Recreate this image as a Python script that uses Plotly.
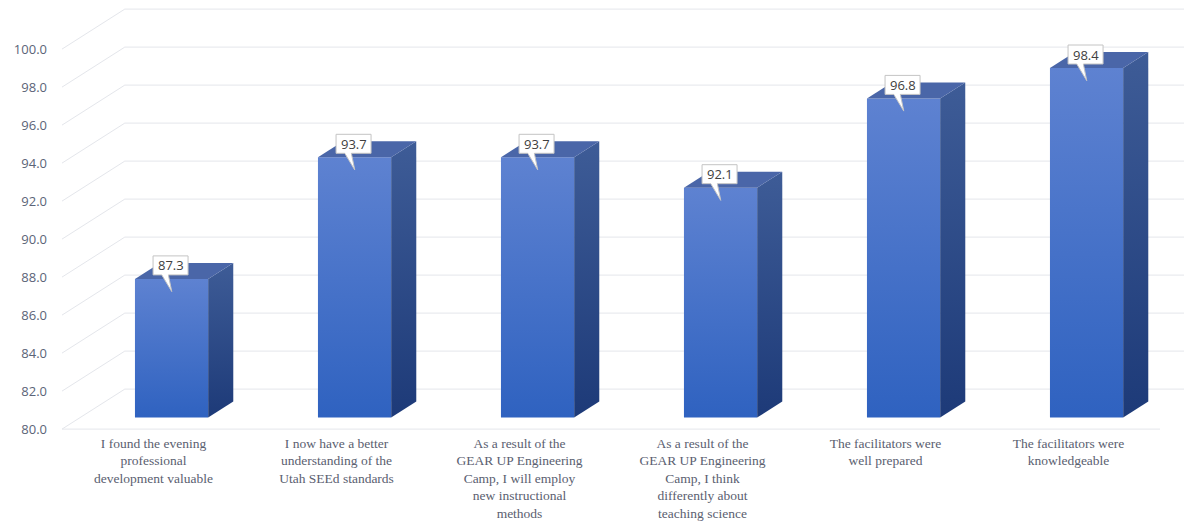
import plotly.graph_objects as go

# ---------------- data ----------------
categories = [
    "I found the evening<br>professional<br>development valuable",
    "I now have a better<br>understanding of the<br>Utah SEEd standards",
    "As a result of the<br>GEAR UP Engineering<br>Camp, I will employ<br>new instructional<br>methods",
    "As a result of the<br>GEAR UP Engineering<br>Camp, I think<br>differently about<br>teaching science",
    "The facilitators were<br>well prepared",
    "The facilitators were<br>knowledgeable",
]
values = [87.3, 93.7, 93.7, 92.1, 96.8, 98.4]
y_ticks = [80, 82, 84, 86, 88, 90, 92, 94, 96, 98, 100]
y_tick_labels = [f"{v:.1f}" for v in y_ticks]
y_base = 80

# ---------------- geometry / style ----------------
W, H = 1184, 521
ML, MR, MT, MB = 56, 0, 0, 89
PXX, PXY = 183.0, 19.0          # pixels per x unit / per y unit
K = 1.57                        # x pixels per depth pixel (oblique projection)
T_BF, T_BB, T_BACK = 11.5, 27.5, 40.0   # depth of bar front, bar back, back wall
HALF = 0.2                      # half bar width (category units)

x0 = -(153.5 - ML) / PXX
x1 = x0 + (W - ML - MR) / PXX
y_top = y_base + 417.6 / PXY
y_bot = y_top - (H - MT - MB) / PXY


def P(xc, v, t):
    """front-plane x, value, depth(px) -> data coords"""
    return xc + K * t / PXX, v + (t - T_BF) / PXY


GRID = "#e4e6eb"
FRONT_CS = [[0, "#2f62c0"], [1, "#5e82d1"]]
SIDE_CS = [[0, "#1d3a78"], [1, "#3e5c97"]]
TOP_COL = "#4a66a8"

fig = go.Figure()
shapes = []

# gridlines: front-left slant then along back wall
for v in y_ticks:
    a = P(-0.5, v, 0)
    b = P(-0.5, v, T_BACK)
    c = P(7.0, v, T_BACK)
    shapes.append(dict(type="path", xref="x", yref="y", layer="below",
                       path=f"M {a[0]},{a[1]} L {b[0]},{b[1]} L {c[0]},{c[1]}",
                       line=dict(color=GRID, width=1)))
# floor front edge
a = P(-0.5, y_base, 0)
b = P(len(values) - 0.5, y_base, 0)
shapes.append(dict(type="line", xref="x", yref="y", layer="below",
                   x0=a[0], y0=a[1], x1=b[0], y1=b[1],
                   line=dict(color=GRID, width=1)))


def poly(pts):
    xs = [p[0] for p in pts] + [pts[0][0]]
    ys = [p[1] for p in pts] + [pts[0][1]]
    return xs, ys


for i, v in enumerate(values):
    # front face
    front = [P(i - HALF, y_base, T_BF), P(i + HALF, y_base, T_BF),
             P(i + HALF, v, T_BF), P(i - HALF, v, T_BF)]
    xs, ys = poly(front)
    fig.add_trace(go.Scatter(x=xs, y=ys, mode="lines", fill="toself",
                             line=dict(width=0, color="#4471c8"),
                             fillgradient=dict(type="vertical", colorscale=FRONT_CS),
                             hoverinfo="skip", showlegend=False))
    # side face
    side = [P(i + HALF, y_base, T_BF), P(i + HALF, y_base, T_BB),
            P(i + HALF, v, T_BB), P(i + HALF, v, T_BF)]
    xs, ys = poly(side)
    fig.add_trace(go.Scatter(x=xs, y=ys, mode="lines", fill="toself",
                             line=dict(width=0, color="#2c4a88"),
                             fillgradient=dict(type="vertical", colorscale=SIDE_CS),
                             hoverinfo="skip", showlegend=False))
    # top face
    top = [P(i - HALF, v, T_BF), P(i + HALF, v, T_BF),
           P(i + HALF, v, T_BB), P(i - HALF, v, T_BB)]
    xs, ys = poly(top)
    fig.add_trace(go.Scatter(x=xs, y=ys, mode="lines", fill="toself",
                             fillcolor=TOP_COL, line=dict(width=0, color=TOP_COL),
                             hoverinfo="skip", showlegend=False))

    # callout box with tail
    cx, cy = P(i, v, T_BF)
    shapes.append(dict(type="path", xref="x", yref="y",
                       xsizemode="pixel", ysizemode="pixel",
                       xanchor=cx, yanchor=cy, layer="above",
                       path="M -18.5,4 L -9.8,4 L 0.2,-12.7 L -3.2,4 L 16.5,4 "
                            "L 16.5,23 L -18.5,23 Z",
                       fillcolor="white", line=dict(color="#c4c4c4", width=1)))
    fig.add_annotation(x=cx, y=cy, xref="x", yref="y", text=f"{v:.1f}",
                       showarrow=False, xshift=-1, yshift=13.5,
                       font=dict(family="Open Sans", size=13, color="#404040"))

fig.update_layout(
    width=W, height=H,
    margin=dict(l=ML, r=MR, t=MT, b=MB),
    paper_bgcolor="white", plot_bgcolor="white",
    shapes=shapes, showlegend=False,
    xaxis=dict(range=[x0, x1], tickvals=list(range(len(categories))),
               ticktext=categories, showgrid=False, zeroline=False,
               showline=False, ticks="", automargin=False, ticklabelstandoff=1,
               tickfont=dict(family="Liberation Serif", size=13.5, color="#5a6070")),
    yaxis=dict(range=[y_bot, y_top], automargin=False,
               tickvals=[t - T_BF / PXY for t in y_ticks], ticktext=y_tick_labels,
               showgrid=False, zeroline=False, showline=False, ticks="",
               ticklabelstandoff=8,
               tickfont=dict(family="Open Sans", size=13, color="#5b6478")),
)

fig.write_html("out.html")
